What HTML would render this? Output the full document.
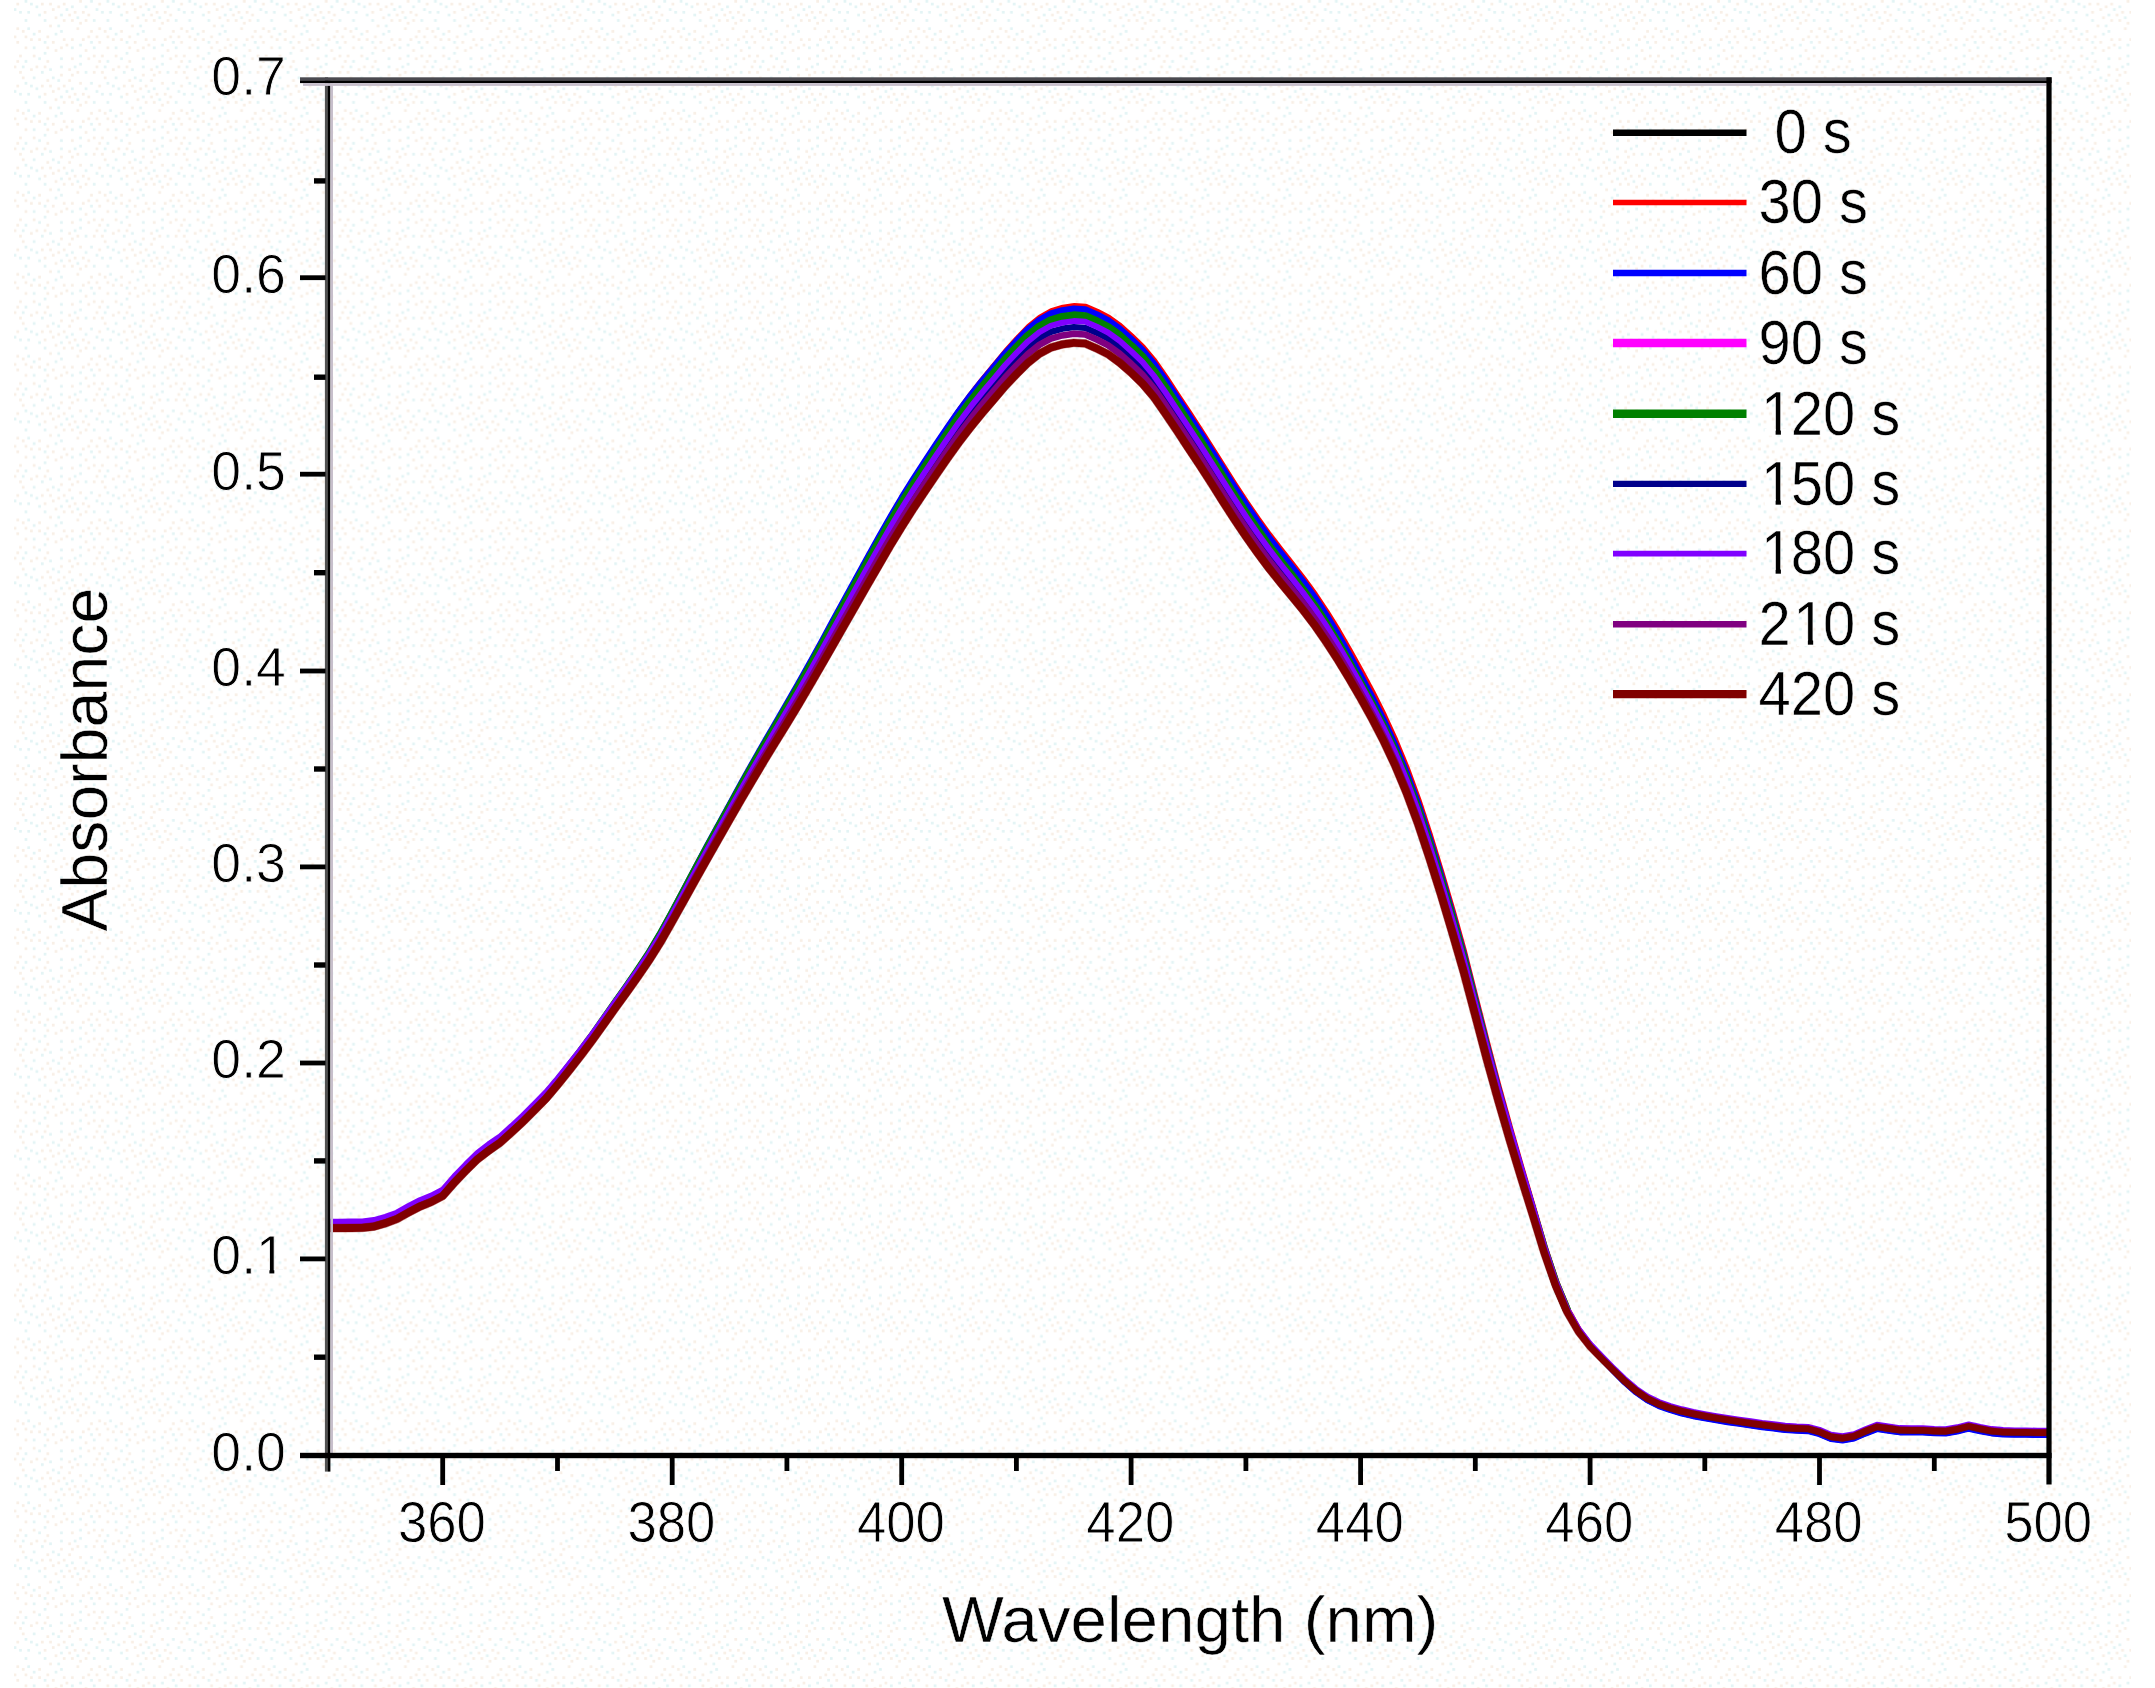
<!DOCTYPE html>
<html lang="en"><head><meta charset="utf-8"><title>Absorbance vs Wavelength</title>
<style>
html,body{margin:0;padding:0;background:#fff;}
body{width:2155px;height:1688px;overflow:hidden;}
svg{display:block;}
text{font-family:"Liberation Sans",Arial,Helvetica,sans-serif;fill:#000;}
.tick{font-size:52.5px;stroke:#fff;stroke-width:0.8px;}
.leg{font-size:58px;stroke:#fff;stroke-width:0.5px;}
.title{font-size:64px;stroke:#fff;stroke-width:0.5px;}
</style></head><body>
<svg width="2155" height="1688" viewBox="0 0 2155 1688">
<defs><pattern id="dz" width="81.90" height="81.90" patternUnits="userSpaceOnUse">
<rect x="27.30" y="10.92" width="2.73" height="2.73" fill="#e3f4f5"/>
<rect x="32.76" y="54.60" width="2.73" height="2.73" fill="#f8efe6"/>
<rect x="2.73" y="5.46" width="2.73" height="2.73" fill="#e3f4f5"/>
<rect x="70.98" y="46.41" width="2.73" height="2.73" fill="#e3f4f5"/>
<rect x="8.19" y="30.03" width="2.73" height="2.73" fill="#f8efe6"/>
<rect x="49.14" y="2.73" width="2.73" height="2.73" fill="#f8efe6"/>
<rect x="79.17" y="43.68" width="2.73" height="2.73" fill="#e3f4f5"/>
<rect x="16.38" y="2.73" width="2.73" height="2.73" fill="#f8efe6"/>
<rect x="5.46" y="35.49" width="2.73" height="2.73" fill="#f8efe6"/>
<rect x="35.49" y="5.46" width="2.73" height="2.73" fill="#e3f4f5"/>
<rect x="46.41" y="35.49" width="2.73" height="2.73" fill="#f8efe6"/>
<rect x="2.73" y="70.98" width="2.73" height="2.73" fill="#e3f4f5"/>
<rect x="19.11" y="54.60" width="2.73" height="2.73" fill="#f8efe6"/>
<rect x="54.60" y="49.14" width="2.73" height="2.73" fill="#f8efe6"/>
<rect x="2.73" y="49.14" width="2.73" height="2.73" fill="#f8efe6"/>
<rect x="2.73" y="19.11" width="2.73" height="2.73" fill="#f8efe6"/>
<rect x="73.71" y="10.92" width="2.73" height="2.73" fill="#f8efe6"/>
<rect x="24.57" y="35.49" width="2.73" height="2.73" fill="#f8efe6"/>
<rect x="10.92" y="46.41" width="2.73" height="2.73" fill="#e3f4f5"/>
<rect x="24.57" y="46.41" width="2.73" height="2.73" fill="#f8efe6"/>
<rect x="70.98" y="57.33" width="2.73" height="2.73" fill="#f8efe6"/>
<rect x="13.65" y="8.19" width="2.73" height="2.73" fill="#e3f4f5"/>
<rect x="54.60" y="16.38" width="2.73" height="2.73" fill="#f8efe6"/>
<rect x="46.41" y="60.06" width="2.73" height="2.73" fill="#f8efe6"/>
<rect x="16.38" y="40.95" width="2.73" height="2.73" fill="#f8efe6"/>
<rect x="35.49" y="65.52" width="2.73" height="2.73" fill="#f8efe6"/>
<rect x="38.22" y="30.03" width="2.73" height="2.73" fill="#f8efe6"/>
<rect x="24.57" y="19.11" width="2.73" height="2.73" fill="#e3f4f5"/>
<rect x="68.25" y="13.65" width="2.73" height="2.73" fill="#f8efe6"/>
<rect x="60.06" y="65.52" width="2.73" height="2.73" fill="#e3f4f5"/>
<rect x="49.14" y="24.57" width="2.73" height="2.73" fill="#f8efe6"/>
<rect x="43.68" y="40.95" width="2.73" height="2.73" fill="#e3f4f5"/>
<rect x="76.44" y="27.30" width="2.73" height="2.73" fill="#f8efe6"/>
<rect x="62.79" y="38.22" width="2.73" height="2.73" fill="#f8efe6"/>
<rect x="13.65" y="65.52" width="2.73" height="2.73" fill="#f8efe6"/>
<rect x="57.33" y="5.46" width="2.73" height="2.73" fill="#f8efe6"/>
<rect x="49.14" y="68.25" width="2.73" height="2.73" fill="#e3f4f5"/>
<rect x="76.44" y="70.98" width="2.73" height="2.73" fill="#f8efe6"/>
<rect x="27.30" y="27.30" width="2.73" height="2.73" fill="#e3f4f5"/>
<rect x="60.06" y="30.03" width="2.73" height="2.73" fill="#e3f4f5"/>
<rect x="51.87" y="40.95" width="2.73" height="2.73" fill="#f8efe6"/>
<rect x="70.98" y="5.46" width="2.73" height="2.73" fill="#e3f4f5"/>
<rect x="60.06" y="57.33" width="2.73" height="2.73" fill="#e3f4f5"/>
<rect x="70.98" y="38.22" width="2.73" height="2.73" fill="#f8efe6"/>
<rect x="24.57" y="60.06" width="2.73" height="2.73" fill="#e3f4f5"/>
<rect x="32.76" y="76.44" width="2.73" height="2.73" fill="#e3f4f5"/>
<rect x="0.00" y="38.22" width="2.73" height="2.73" fill="#f8efe6"/>
<rect x="51.87" y="8.19" width="2.73" height="2.73" fill="#f8efe6"/>
<rect x="40.95" y="2.73" width="2.73" height="2.73" fill="#f8efe6"/>
<rect x="62.79" y="19.11" width="2.73" height="2.73" fill="#f8efe6"/>
<rect x="32.76" y="32.76" width="2.73" height="2.73" fill="#e3f4f5"/>
<rect x="32.76" y="46.41" width="2.73" height="2.73" fill="#e3f4f5"/>
<rect x="21.84" y="76.44" width="2.73" height="2.73" fill="#f8efe6"/>
<rect x="10.92" y="70.98" width="2.73" height="2.73" fill="#f8efe6"/>
<rect x="19.11" y="10.92" width="2.73" height="2.73" fill="#e3f4f5"/>
<rect x="5.46" y="13.65" width="2.73" height="2.73" fill="#f8efe6"/>
<rect x="10.92" y="19.11" width="2.73" height="2.73" fill="#e3f4f5"/>
<rect x="24.57" y="0.00" width="2.73" height="2.73" fill="#e3f4f5"/>
<rect x="60.06" y="73.71" width="2.73" height="2.73" fill="#f8efe6"/>
<rect x="43.68" y="51.87" width="2.73" height="2.73" fill="#e3f4f5"/>
<rect x="62.79" y="2.73" width="2.73" height="2.73" fill="#f8efe6"/>
<rect x="73.71" y="65.52" width="2.73" height="2.73" fill="#e3f4f5"/>
<rect x="8.19" y="40.95" width="2.73" height="2.73" fill="#e3f4f5"/>
<rect x="54.60" y="32.76" width="2.73" height="2.73" fill="#e3f4f5"/>
<rect x="38.22" y="13.65" width="2.73" height="2.73" fill="#e3f4f5"/>
<rect x="8.19" y="0.00" width="2.73" height="2.73" fill="#e3f4f5"/>
<rect x="10.92" y="54.60" width="2.73" height="2.73" fill="#f8efe6"/>
<rect x="21.84" y="30.03" width="2.73" height="2.73" fill="#f8efe6"/>
<rect x="40.95" y="70.98" width="2.73" height="2.73" fill="#e3f4f5"/>
<rect x="60.06" y="13.65" width="2.73" height="2.73" fill="#e3f4f5"/>
<rect x="60.06" y="46.41" width="2.73" height="2.73" fill="#f8efe6"/>
<rect x="79.17" y="0.00" width="2.73" height="2.73" fill="#f8efe6"/>
<rect x="65.52" y="43.68" width="2.73" height="2.73" fill="#f8efe6"/>
<rect x="46.41" y="46.41" width="2.73" height="2.73" fill="#f8efe6"/>
<rect x="68.25" y="68.25" width="2.73" height="2.73" fill="#f8efe6"/>
<rect x="19.11" y="70.98" width="2.73" height="2.73" fill="#f8efe6"/>
<rect x="30.03" y="38.22" width="2.73" height="2.73" fill="#f8efe6"/>
<rect x="68.25" y="79.17" width="2.73" height="2.73" fill="#f8efe6"/>
<rect x="16.38" y="27.30" width="2.73" height="2.73" fill="#f8efe6"/>
<rect x="51.87" y="76.44" width="2.73" height="2.73" fill="#e3f4f5"/>
<rect x="79.17" y="54.60" width="2.73" height="2.73" fill="#e3f4f5"/>
<rect x="30.03" y="68.25" width="2.73" height="2.73" fill="#f8efe6"/>
<rect x="0.00" y="10.92" width="2.73" height="2.73" fill="#f8efe6"/>
<rect x="57.33" y="79.17" width="2.73" height="2.73" fill="#e3f4f5"/>
<rect x="70.98" y="73.71" width="2.73" height="2.73" fill="#f8efe6"/>
<rect x="79.17" y="62.79" width="2.73" height="2.73" fill="#e3f4f5"/>
<rect x="38.22" y="57.33" width="2.73" height="2.73" fill="#e3f4f5"/>
<rect x="43.68" y="10.92" width="2.73" height="2.73" fill="#f8efe6"/>
<rect x="65.52" y="8.19" width="2.73" height="2.73" fill="#e3f4f5"/>
<rect x="16.38" y="60.06" width="2.73" height="2.73" fill="#f8efe6"/>
<rect x="43.68" y="19.11" width="2.73" height="2.73" fill="#e3f4f5"/>
<rect x="79.17" y="21.84" width="2.73" height="2.73" fill="#f8efe6"/>
<rect x="76.44" y="16.38" width="2.73" height="2.73" fill="#e3f4f5"/>
<rect x="5.46" y="57.33" width="2.73" height="2.73" fill="#f8efe6"/>
<rect x="57.33" y="24.57" width="2.73" height="2.73" fill="#e3f4f5"/>
<rect x="70.98" y="19.11" width="2.73" height="2.73" fill="#f8efe6"/>
<rect x="38.22" y="38.22" width="2.73" height="2.73" fill="#f8efe6"/>
<rect x="21.84" y="65.52" width="2.73" height="2.73" fill="#e3f4f5"/>
<rect x="46.41" y="79.17" width="2.73" height="2.73" fill="#f8efe6"/>
<rect x="13.65" y="35.49" width="2.73" height="2.73" fill="#f8efe6"/>
<rect x="43.68" y="65.52" width="2.73" height="2.73" fill="#f8efe6"/>
<rect x="30.03" y="2.73" width="2.73" height="2.73" fill="#e3f4f5"/>
</pattern>
<clipPath id="pc"><rect x="328.0" y="80.5" width="1721.0" height="1375.0"/></clipPath>
</defs>
<rect width="2155" height="1688" fill="#ffffff"/>
<rect x="14" y="0" width="2117" height="1688" fill="url(#dz)"/>
<g clip-path="url(#pc)" fill="none" stroke-linejoin="round" stroke-linecap="butt">
<path d="M328.0,1225.1 L339.5,1225.1 L350.9,1225.0 L362.4,1224.8 L373.9,1223.5 L385.4,1220.3 L396.8,1216.0 L408.3,1209.5 L419.8,1203.5 L431.3,1198.8 L442.7,1192.9 L454.2,1179.6 L465.7,1167.6 L477.2,1156.2 L488.6,1147.3 L500.1,1139.3 L511.6,1128.9 L523.0,1118.1 L534.5,1106.4 L546.0,1094.5 L557.5,1080.7 L568.9,1066.2 L580.4,1051.3 L591.9,1035.7 L603.4,1019.3 L614.8,1002.9 L626.3,986.5 L637.8,969.8 L649.3,952.2 L660.7,932.9 L672.2,911.9 L683.7,890.1 L695.1,868.4 L706.6,846.9 L718.1,825.8 L729.6,804.7 L741.0,783.8 L752.5,763.3 L764.0,743.1 L775.5,723.3 L786.9,703.5 L798.4,683.5 L809.9,663.1 L821.4,642.2 L832.8,621.1 L844.3,600.0 L855.8,579.1 L867.2,558.2 L878.7,537.6 L890.2,517.3 L901.7,497.8 L913.1,479.5 L924.6,461.9 L936.1,444.4 L947.6,427.4 L959.0,410.9 L970.5,395.5 L982.0,381.0 L993.5,367.3 L1004.9,353.6 L1016.4,341.1 L1027.9,329.3 L1039.3,320.1 L1050.8,313.7 L1062.3,310.4 L1073.8,308.8 L1085.2,309.5 L1096.7,314.5 L1108.2,320.4 L1119.7,328.7 L1131.1,338.9 L1142.6,350.1 L1154.1,363.8 L1165.6,380.4 L1177.0,397.5 L1188.5,415.0 L1200.0,432.5 L1211.4,450.5 L1222.9,468.8 L1234.4,486.9 L1245.9,504.4 L1257.3,521.1 L1268.8,537.1 L1280.3,552.2 L1291.8,566.7 L1303.2,581.5 L1314.7,597.4 L1326.2,615.0 L1337.7,634.1 L1349.1,654.4 L1360.6,675.5 L1372.1,697.1 L1383.5,719.7 L1395.0,744.6 L1406.5,772.4 L1418.0,803.6 L1429.4,838.1 L1440.9,875.0 L1452.4,913.8 L1463.9,954.8 L1475.3,999.8 L1486.8,1045.0 L1498.3,1088.8 L1509.8,1130.1 L1521.2,1169.6 L1532.7,1208.3 L1544.2,1247.3 L1555.6,1281.8 L1567.1,1309.6" stroke="#000000" stroke-width="5.0"/>
<path d="M1567.1,1309.6 L1578.6,1330.2 L1590.1,1345.8 L1601.5,1358.4 L1613.0,1370.6 L1624.5,1382.3 L1636.0,1392.4 L1647.4,1400.4 L1658.9,1406.1 L1670.4,1410.2 L1681.9,1413.5 L1693.3,1416.2 L1704.8,1418.4 L1716.3,1420.4 L1727.7,1422.2 L1739.2,1423.9 L1750.7,1425.6 L1762.2,1427.2 L1773.6,1428.5 L1785.1,1430.1 L1796.6,1430.8 L1808.1,1431.2 L1819.5,1434.2 L1831.0,1439.1 L1842.5,1440.5 L1854.0,1438.5 L1865.4,1433.6 L1876.9,1429.1 L1888.4,1430.8 L1899.8,1432.4 L1911.3,1432.6 L1922.8,1432.6 L1934.3,1433.3 L1945.7,1433.5 L1957.2,1431.6 L1968.7,1428.7 L1980.2,1431.2 L1991.6,1433.4 L2003.1,1434.4 L2014.6,1434.7 L2026.1,1434.8 L2037.5,1435.0 L2049.0,1435.0" stroke="#000000" stroke-width="5.0"/>
<path d="M328.6,1225.6 L340.1,1225.6 L351.5,1225.5 L363.0,1225.3 L374.5,1224.0 L386.0,1220.8 L397.4,1216.5 L408.9,1210.0 L420.4,1204.0 L431.9,1199.3 L443.3,1193.4 L454.8,1180.1 L466.3,1168.1 L477.8,1156.7 L489.2,1147.8 L500.7,1139.8 L512.2,1129.4 L523.6,1118.6 L535.1,1106.9 L546.6,1095.0 L558.1,1081.2 L569.5,1066.7 L581.0,1051.8 L592.5,1036.2 L604.0,1019.8 L615.4,1003.4 L626.9,987.0 L638.4,970.3 L649.9,952.7 L661.3,933.4 L672.8,912.4 L684.3,890.7 L695.7,868.9 L707.2,847.5 L718.7,826.3 L730.2,805.2 L741.6,784.3 L753.1,763.8 L764.6,743.6 L776.1,723.8 L787.5,704.1 L799.0,684.1 L810.5,663.7 L822.0,642.8 L833.4,621.7 L844.9,600.6 L856.4,579.5 L867.8,558.6 L879.3,537.9 L890.8,517.4 L902.3,497.8 L913.7,479.3 L925.2,461.4 L936.7,443.8 L948.2,426.4 L959.6,409.7 L971.1,394.0 L982.6,379.3 L994.1,365.3 L1005.5,351.4 L1017.0,338.6 L1028.5,326.7 L1039.9,317.3 L1051.4,310.8 L1062.9,307.4 L1074.4,305.8 L1085.8,306.5 L1097.3,311.5 L1108.8,317.4 L1120.3,325.8 L1131.7,336.0 L1143.2,347.2 L1154.7,361.1 L1166.2,377.6 L1177.6,394.9 L1189.1,412.3 L1200.6,429.9 L1212.0,448.0 L1223.5,466.3 L1235.0,484.5 L1246.5,502.0 L1257.9,518.6 L1269.4,534.5 L1280.9,549.5 L1292.4,563.9 L1303.8,578.7 L1315.3,594.4 L1326.8,611.7 L1338.3,630.3 L1349.7,650.1 L1361.2,670.8 L1372.7,692.3 L1384.1,715.1 L1395.6,740.2 L1407.1,768.2 L1418.6,799.6 L1430.0,834.4 L1441.5,871.7 L1453.0,910.8 L1464.5,952.1 L1475.9,997.3 L1487.4,1042.6 L1498.9,1086.5 L1510.4,1128.0 L1521.8,1167.8 L1533.3,1206.7 L1544.8,1246.0 L1556.2,1280.7 L1567.7,1308.6" stroke="#ff0000" stroke-width="5.5"/>
<path d="M1567.7,1308.6 L1579.2,1329.2 L1590.7,1344.7 L1602.1,1357.3 L1613.6,1369.3 L1625.1,1380.9 L1636.6,1390.8 L1648.0,1398.6 L1659.5,1404.1 L1671.0,1408.0 L1682.5,1411.2 L1693.9,1413.8 L1705.4,1416.0 L1716.9,1418.0 L1728.3,1419.8 L1739.8,1421.5 L1751.3,1423.2 L1762.8,1424.8 L1774.2,1426.1 L1785.7,1427.7 L1797.2,1428.4 L1808.7,1428.8 L1820.1,1431.8 L1831.6,1436.7 L1843.1,1438.1 L1854.6,1436.1 L1866.0,1431.2 L1877.5,1426.7 L1889.0,1428.4 L1900.4,1430.0 L1911.9,1430.2 L1923.4,1430.2 L1934.9,1430.9 L1946.3,1431.1 L1957.8,1429.2 L1969.3,1426.3 L1980.8,1428.8 L1992.2,1431.0 L2003.7,1432.0 L2015.2,1432.3 L2026.7,1432.4 L2038.1,1432.6 L2049.6,1432.6" stroke="#ff0000" stroke-width="5.0"/>
<path d="M328.0,1225.1 L339.5,1225.1 L350.9,1225.0 L362.4,1224.8 L373.9,1223.5 L385.4,1220.3 L396.8,1216.0 L408.3,1209.5 L419.8,1203.5 L431.3,1198.8 L442.7,1192.9 L454.2,1179.6 L465.7,1167.6 L477.2,1156.2 L488.6,1147.3 L500.1,1139.3 L511.6,1128.9 L523.0,1118.1 L534.5,1106.4 L546.0,1094.5 L557.5,1080.7 L568.9,1066.2 L580.4,1051.3 L591.9,1035.7 L603.4,1019.3 L614.8,1002.9 L626.3,986.5 L637.8,969.8 L649.3,952.2 L660.7,932.9 L672.2,911.9 L683.7,890.1 L695.1,868.4 L706.6,846.9 L718.1,825.8 L729.6,804.7 L741.0,783.8 L752.5,763.3 L764.0,743.1 L775.5,723.3 L786.9,703.5 L798.4,683.5 L809.9,663.1 L821.4,642.2 L832.8,621.1 L844.3,600.0 L855.8,579.1 L867.2,558.2 L878.7,537.6 L890.2,517.3 L901.7,497.8 L913.1,479.5 L924.6,461.9 L936.1,444.4 L947.6,427.4 L959.0,410.9 L970.5,395.5 L982.0,381.0 L993.5,367.3 L1004.9,353.6 L1016.4,341.1 L1027.9,329.3 L1039.3,320.1 L1050.8,313.7 L1062.3,310.4 L1073.8,308.8 L1085.2,309.5 L1096.7,314.5 L1108.2,320.4 L1119.7,328.7 L1131.1,338.9 L1142.6,350.1 L1154.1,363.8 L1165.6,380.4 L1177.0,397.5 L1188.5,415.0 L1200.0,432.5 L1211.4,450.5 L1222.9,468.8 L1234.4,486.9 L1245.9,504.4 L1257.3,521.1 L1268.8,537.1 L1280.3,552.2 L1291.8,566.7 L1303.2,581.5 L1314.7,597.4 L1326.2,615.0 L1337.7,634.1 L1349.1,654.4 L1360.6,675.5 L1372.1,697.1 L1383.5,719.7 L1395.0,744.6 L1406.5,772.4 L1418.0,803.6 L1429.4,838.1 L1440.9,875.0 L1452.4,913.8 L1463.9,954.8 L1475.3,999.8 L1486.8,1045.0 L1498.3,1088.8 L1509.8,1130.1 L1521.2,1169.6 L1532.7,1208.3 L1544.2,1247.3 L1555.6,1281.8 L1567.1,1309.6" stroke="#0000ff" stroke-width="6.5"/>
<path d="M1567.1,1309.6 L1578.6,1330.2 L1590.1,1345.8 L1601.5,1358.4 L1613.0,1370.6 L1624.5,1382.3 L1636.0,1392.4 L1647.4,1400.4 L1658.9,1406.1 L1670.4,1410.2 L1681.9,1413.5 L1693.3,1416.2 L1704.8,1418.4 L1716.3,1420.4 L1727.7,1422.2 L1739.2,1423.9 L1750.7,1425.6 L1762.2,1427.2 L1773.6,1428.5 L1785.1,1430.1 L1796.6,1430.8 L1808.1,1431.2 L1819.5,1434.2 L1831.0,1439.1 L1842.5,1440.5 L1854.0,1438.5 L1865.4,1433.6 L1876.9,1429.1 L1888.4,1430.8 L1899.8,1432.4 L1911.3,1432.6 L1922.8,1432.6 L1934.3,1433.3 L1945.7,1433.5 L1957.2,1431.6 L1968.7,1428.7 L1980.2,1431.2 L1991.6,1433.4 L2003.1,1434.4 L2014.6,1434.7 L2026.1,1434.8 L2037.5,1435.0 L2049.0,1435.0" stroke="#0000ff" stroke-width="6.0"/>
<path d="M328.0,1225.6 L339.5,1225.6 L350.9,1225.5 L362.4,1225.3 L373.9,1224.0 L385.4,1220.8 L396.8,1216.5 L408.3,1210.0 L419.8,1204.0 L431.3,1199.3 L442.7,1193.4 L454.2,1180.1 L465.7,1168.1 L477.2,1156.7 L488.6,1147.8 L500.1,1139.8 L511.6,1129.4 L523.0,1118.6 L534.5,1106.9 L546.0,1095.1 L557.5,1081.3 L568.9,1066.9 L580.4,1052.1 L591.9,1036.6 L603.4,1020.3 L614.8,1003.9 L626.3,987.6 L637.8,971.0 L649.3,953.6 L660.7,934.5 L672.2,913.7 L683.7,892.2 L695.1,870.7 L706.6,849.5 L718.1,828.5 L729.6,807.7 L741.0,787.0 L752.5,766.7 L764.0,746.7 L775.5,727.1 L786.9,707.6 L798.4,687.8 L809.9,667.5 L821.4,646.9 L832.8,626.0 L844.3,605.1 L855.8,584.3 L867.2,563.6 L878.7,543.2 L890.2,523.0 L901.7,503.6 L913.1,485.4 L924.6,467.9 L936.1,450.5 L947.6,433.6 L959.0,417.2 L970.5,401.9 L982.0,387.5 L993.5,373.8 L1004.9,360.2 L1016.4,347.7 L1027.9,336.0 L1039.3,326.9 L1050.8,320.5 L1062.3,317.2 L1073.8,315.6 L1085.2,316.4 L1096.7,321.4 L1108.2,327.4 L1119.7,335.8 L1131.1,346.1 L1142.6,357.4 L1154.1,371.4 L1165.6,388.1 L1177.0,405.5 L1188.5,423.1 L1200.0,440.8 L1211.4,459.0 L1222.9,477.5 L1234.4,495.7 L1245.9,513.3 L1257.3,530.0 L1268.8,546.1 L1280.3,561.2 L1291.8,575.7 L1303.2,590.6 L1314.7,606.4 L1326.2,623.9 L1337.7,642.9 L1349.1,662.9 L1360.6,683.7 L1372.1,704.9 L1383.5,727.2 L1395.0,751.9 L1406.5,779.4 L1418.0,810.4 L1429.4,844.7 L1440.9,881.3 L1452.4,919.8 L1463.9,960.5 L1475.3,1005.2 L1486.8,1050.2 L1498.3,1093.7 L1509.8,1134.5 L1521.2,1173.4 L1532.7,1211.3 L1544.2,1249.5 L1555.6,1283.3 L1567.1,1310.6" stroke="#ff00ff" stroke-width="7.0"/>
<path d="M1567.1,1310.6 L1578.6,1330.8 L1590.1,1345.9 L1601.5,1358.1 L1613.0,1369.9 L1624.5,1381.3 L1636.0,1391.3 L1647.4,1399.1 L1658.9,1404.8 L1670.4,1408.7 L1681.9,1412.0 L1693.3,1414.6 L1704.8,1416.8 L1716.3,1418.8 L1727.7,1420.6 L1739.2,1422.3 L1750.7,1424.0 L1762.2,1425.6 L1773.6,1426.9 L1785.1,1428.5 L1796.6,1429.2 L1808.1,1429.6 L1819.5,1432.6 L1831.0,1437.5 L1842.5,1438.9 L1854.0,1436.9 L1865.4,1432.0 L1876.9,1427.5 L1888.4,1429.2 L1899.8,1430.8 L1911.3,1431.0 L1922.8,1431.0 L1934.3,1431.7 L1945.7,1431.9 L1957.2,1430.0 L1968.7,1427.1 L1980.2,1429.6 L1991.6,1431.8 L2003.1,1432.8 L2014.6,1433.1 L2026.1,1433.2 L2037.5,1433.4 L2049.0,1433.4" stroke="#ff00ff" stroke-width="5.0"/>
<path d="M328.0,1225.6 L339.5,1225.6 L350.9,1225.5 L362.4,1225.3 L373.9,1224.0 L385.4,1220.8 L396.8,1216.5 L408.3,1210.0 L419.8,1204.0 L431.3,1199.3 L442.7,1193.4 L454.2,1180.1 L465.7,1168.1 L477.2,1156.7 L488.6,1147.8 L500.1,1139.8 L511.6,1129.4 L523.0,1118.6 L534.5,1106.9 L546.0,1095.1 L557.5,1081.3 L568.9,1066.9 L580.4,1052.1 L591.9,1036.6 L603.4,1020.3 L614.8,1003.9 L626.3,987.6 L637.8,971.0 L649.3,953.6 L660.7,934.5 L672.2,913.7 L683.7,892.2 L695.1,870.7 L706.6,849.5 L718.1,828.5 L729.6,807.7 L741.0,787.0 L752.5,766.7 L764.0,746.7 L775.5,727.1 L786.9,707.6 L798.4,687.8 L809.9,667.5 L821.4,646.9 L832.8,626.0 L844.3,605.1 L855.8,584.3 L867.2,563.6 L878.7,543.2 L890.2,523.0 L901.7,503.6 L913.1,485.4 L924.6,467.9 L936.1,450.5 L947.6,433.6 L959.0,417.2 L970.5,401.9 L982.0,387.5 L993.5,373.8 L1004.9,360.2 L1016.4,347.7 L1027.9,336.0 L1039.3,326.9 L1050.8,320.5 L1062.3,317.2 L1073.8,315.6 L1085.2,316.4 L1096.7,321.4 L1108.2,327.4 L1119.7,335.8 L1131.1,346.1 L1142.6,357.4 L1154.1,371.4 L1165.6,388.1 L1177.0,405.5 L1188.5,423.1 L1200.0,440.8 L1211.4,459.0 L1222.9,477.5 L1234.4,495.7 L1245.9,513.3 L1257.3,530.0 L1268.8,546.1 L1280.3,561.2 L1291.8,575.7 L1303.2,590.6 L1314.7,606.4 L1326.2,623.9 L1337.7,642.9 L1349.1,662.9 L1360.6,683.7 L1372.1,704.9 L1383.5,727.2 L1395.0,751.9 L1406.5,779.4 L1418.0,810.4 L1429.4,844.7 L1440.9,881.3 L1452.4,919.8 L1463.9,960.5 L1475.3,1005.2 L1486.8,1050.2 L1498.3,1093.7 L1509.8,1134.5 L1521.2,1173.4 L1532.7,1211.3 L1544.2,1249.5 L1555.6,1283.3 L1567.1,1310.6" stroke="#008000" stroke-width="8.5"/>
<path d="M1567.1,1310.6 L1578.6,1330.8 L1590.1,1345.9 L1601.5,1358.1 L1613.0,1369.9 L1624.5,1381.3 L1636.0,1391.3 L1647.4,1399.1 L1658.9,1404.8 L1670.4,1408.7 L1681.9,1412.0 L1693.3,1414.6 L1704.8,1416.8 L1716.3,1418.8 L1727.7,1420.6 L1739.2,1422.3 L1750.7,1424.0 L1762.2,1425.6 L1773.6,1426.9 L1785.1,1428.5 L1796.6,1429.2 L1808.1,1429.6 L1819.5,1432.6 L1831.0,1437.5 L1842.5,1438.9 L1854.0,1436.9 L1865.4,1432.0 L1876.9,1427.5 L1888.4,1429.2 L1899.8,1430.8 L1911.3,1431.0 L1922.8,1431.0 L1934.3,1431.7 L1945.7,1431.9 L1957.2,1430.0 L1968.7,1427.1 L1980.2,1429.6 L1991.6,1431.8 L2003.1,1432.8 L2014.6,1433.1 L2026.1,1433.2 L2037.5,1433.4 L2049.0,1433.4" stroke="#008000" stroke-width="5.0"/>
<path d="M328.0,1226.7 L339.5,1226.7 L350.9,1226.6 L362.4,1226.4 L373.9,1225.1 L385.4,1221.9 L396.8,1217.7 L408.3,1211.1 L419.8,1205.2 L431.3,1200.5 L442.7,1194.6 L454.2,1181.3 L465.7,1169.4 L477.2,1158.1 L488.6,1149.1 L500.1,1141.2 L511.6,1130.8 L523.0,1120.1 L534.5,1108.5 L546.0,1096.7 L557.5,1083.0 L568.9,1068.7 L580.4,1053.9 L591.9,1038.5 L603.4,1022.3 L614.8,1006.1 L626.3,989.9 L637.8,973.6 L649.3,956.4 L660.7,937.7 L672.2,917.2 L683.7,896.0 L695.1,874.8 L706.6,854.0 L718.1,833.3 L729.6,812.8 L741.0,792.5 L752.5,772.4 L764.0,752.8 L775.5,733.6 L786.9,714.4 L798.4,695.0 L809.9,675.1 L821.4,654.8 L832.8,634.3 L844.3,613.7 L855.8,593.3 L867.2,572.9 L878.7,552.7 L890.2,532.7 L901.7,513.5 L913.1,495.5 L924.6,478.1 L936.1,460.9 L947.6,444.1 L959.0,427.9 L970.5,412.7 L982.0,398.4 L993.5,384.8 L1004.9,371.3 L1016.4,359.0 L1027.9,347.4 L1039.3,338.3 L1050.8,331.9 L1062.3,328.7 L1073.8,327.1 L1085.2,327.8 L1096.7,332.8 L1108.2,338.8 L1119.7,347.2 L1131.1,357.4 L1142.6,368.6 L1154.1,382.5 L1165.6,399.1 L1177.0,416.3 L1188.5,433.8 L1200.0,451.4 L1211.4,469.5 L1222.9,487.8 L1234.4,505.9 L1245.9,523.2 L1257.3,539.7 L1268.8,555.4 L1280.3,570.2 L1291.8,584.4 L1303.2,598.9 L1314.7,614.4 L1326.2,631.4 L1337.7,649.8 L1349.1,669.2 L1360.6,689.5 L1372.1,710.8 L1383.5,733.4 L1395.0,758.4 L1406.5,786.3 L1418.0,817.6 L1429.4,852.2 L1440.9,889.1 L1452.4,927.8 L1463.9,968.2 L1475.3,1011.9 L1486.8,1055.5 L1498.3,1097.6 L1509.8,1137.5 L1521.2,1175.8 L1532.7,1213.3 L1544.2,1251.1 L1555.6,1284.6 L1567.1,1311.6" stroke="#00008b" stroke-width="6.3"/>
<path d="M1567.1,1311.6 L1578.6,1331.5 L1590.1,1346.4 L1601.5,1358.4 L1613.0,1370.1 L1624.5,1381.4 L1636.0,1391.3 L1647.4,1399.2 L1658.9,1404.9 L1670.4,1408.9 L1681.9,1412.1 L1693.3,1414.8 L1704.8,1417.0 L1716.3,1419.0 L1727.7,1420.8 L1739.2,1422.5 L1750.7,1424.2 L1762.2,1425.8 L1773.6,1427.1 L1785.1,1428.7 L1796.6,1429.4 L1808.1,1429.8 L1819.5,1432.8 L1831.0,1437.7 L1842.5,1439.1 L1854.0,1437.1 L1865.4,1432.2 L1876.9,1427.7 L1888.4,1429.4 L1899.8,1431.0 L1911.3,1431.2 L1922.8,1431.2 L1934.3,1431.9 L1945.7,1432.1 L1957.2,1430.2 L1968.7,1427.3 L1980.2,1429.8 L1991.6,1432.0 L2003.1,1433.0 L2014.6,1433.3 L2026.1,1433.4 L2037.5,1433.6 L2049.0,1433.6" stroke="#00008b" stroke-width="5.0"/>
<path d="M328.0,1221.6 L339.5,1221.6 L350.9,1221.5 L362.4,1221.3 L373.9,1220.0 L385.4,1216.8 L396.8,1212.6 L408.3,1206.1 L419.8,1200.1 L431.3,1195.5 L442.7,1189.6 L454.2,1176.3 L465.7,1164.4 L477.2,1153.1 L488.6,1144.2 L500.1,1136.3 L511.6,1126.0 L523.0,1115.3 L534.5,1103.8 L546.0,1092.1 L557.5,1078.5 L568.9,1064.4 L580.4,1049.7 L591.9,1034.5 L603.4,1018.5 L614.8,1002.4 L626.3,986.4 L637.8,970.2 L649.3,953.1 L660.7,934.4 L672.2,914.0 L683.7,892.9 L695.1,871.7 L706.6,850.9 L718.1,830.2 L729.6,809.7 L741.0,789.3 L752.5,769.2 L764.0,749.5 L775.5,730.1 L786.9,710.8 L798.4,691.2 L809.9,671.1 L821.4,650.6 L832.8,629.9 L844.3,609.2 L855.8,588.5 L867.2,568.0 L878.7,547.6 L890.2,527.5 L901.7,508.2 L913.1,490.1 L924.6,472.6 L936.1,455.4 L947.6,438.5 L959.0,422.2 L970.5,406.9 L982.0,392.6 L993.5,379.0 L1004.9,365.4 L1016.4,353.0 L1027.9,341.4 L1039.3,332.2 L1050.8,325.8 L1062.3,322.6 L1073.8,321.0 L1085.2,321.7 L1096.7,326.7 L1108.2,332.6 L1119.7,340.9 L1131.1,351.1 L1142.6,362.2 L1154.1,376.0 L1165.6,392.5 L1177.0,409.6 L1188.5,427.0 L1200.0,444.5 L1211.4,462.5 L1222.9,480.8 L1234.4,498.8 L1245.9,516.3 L1257.3,532.9 L1268.8,548.8 L1280.3,563.8 L1291.8,578.1 L1303.2,592.8 L1314.7,608.4 L1326.2,625.6 L1337.7,644.2 L1349.1,663.8 L1360.6,684.2 L1372.1,705.3 L1383.5,727.5 L1395.0,752.1 L1406.5,779.6 L1418.0,810.6 L1429.4,844.9 L1440.9,881.4 L1452.4,919.8 L1463.9,959.9 L1475.3,1003.4 L1486.8,1046.9 L1498.3,1089.0 L1509.8,1128.9 L1521.2,1167.8 L1532.7,1206.6 L1544.2,1246.1 L1555.6,1280.9 L1567.1,1308.6" stroke="#8000ff" stroke-width="5.8"/>
<path d="M1567.1,1308.6 L1578.6,1328.6 L1590.1,1343.6 L1601.5,1355.6 L1613.0,1367.3 L1624.5,1378.5 L1636.0,1388.4 L1647.4,1396.2 L1658.9,1401.8 L1670.4,1405.8 L1681.9,1409.0 L1693.3,1411.6 L1704.8,1413.8 L1716.3,1415.8 L1727.7,1417.6 L1739.2,1419.3 L1750.7,1421.0 L1762.2,1422.6 L1773.6,1423.9 L1785.1,1425.5 L1796.6,1426.2 L1808.1,1426.6 L1819.5,1429.6 L1831.0,1434.5 L1842.5,1435.9 L1854.0,1433.9 L1865.4,1429.0 L1876.9,1424.5 L1888.4,1426.2 L1899.8,1427.8 L1911.3,1428.0 L1922.8,1428.0 L1934.3,1428.7 L1945.7,1428.9 L1957.2,1427.0 L1968.7,1424.1 L1980.2,1426.6 L1991.6,1428.8 L2003.1,1429.8 L2014.6,1430.1 L2026.1,1430.2 L2037.5,1430.4 L2049.0,1430.4" stroke="#8000ff" stroke-width="5.4"/>
<path d="M328.0,1227.3 L339.5,1227.3 L350.9,1227.2 L362.4,1227.0 L373.9,1225.7 L385.4,1222.5 L396.8,1218.3 L408.3,1211.8 L419.8,1205.8 L431.3,1201.1 L442.7,1195.3 L454.2,1182.0 L465.7,1170.0 L477.2,1158.7 L488.6,1149.8 L500.1,1141.9 L511.6,1131.5 L523.0,1120.8 L534.5,1109.3 L546.0,1097.5 L557.5,1083.9 L568.9,1069.6 L580.4,1054.9 L591.9,1039.6 L603.4,1023.5 L614.8,1007.3 L626.3,991.2 L637.8,975.0 L649.3,958.0 L660.7,939.4 L672.2,919.1 L683.7,898.1 L695.1,877.2 L706.6,856.5 L718.1,836.0 L729.6,815.7 L741.0,795.5 L752.5,775.7 L764.0,756.3 L775.5,737.2 L786.9,718.3 L798.4,699.1 L809.9,679.4 L821.4,659.3 L832.8,639.0 L844.3,618.6 L855.8,598.3 L867.2,578.1 L878.7,558.0 L890.2,538.2 L901.7,519.1 L913.1,501.2 L924.6,483.9 L936.1,466.8 L947.6,450.1 L959.0,434.0 L970.5,418.9 L982.0,404.7 L993.5,391.2 L1004.9,377.8 L1016.4,365.5 L1027.9,354.0 L1039.3,344.9 L1050.8,338.6 L1062.3,335.4 L1073.8,333.8 L1085.2,334.5 L1096.7,339.5 L1108.2,345.4 L1119.7,353.7 L1131.1,363.8 L1142.6,374.9 L1154.1,388.6 L1165.6,405.0 L1177.0,422.1 L1188.5,439.4 L1200.0,456.9 L1211.4,474.8 L1222.9,492.9 L1234.4,510.9 L1245.9,528.1 L1257.3,544.4 L1268.8,560.0 L1280.3,574.7 L1291.8,588.7 L1303.2,603.1 L1314.7,618.4 L1326.2,635.3 L1337.7,653.5 L1349.1,672.8 L1360.6,693.0 L1372.1,714.1 L1383.5,736.5 L1395.0,761.3 L1406.5,789.0 L1418.0,820.1 L1429.4,854.5 L1440.9,891.3 L1452.4,929.8 L1463.9,970.0 L1475.3,1013.7 L1486.8,1057.2 L1498.3,1099.2 L1509.8,1139.0 L1521.2,1177.1 L1532.7,1214.4 L1544.2,1252.0 L1555.6,1285.3 L1567.1,1312.1" stroke="#800080" stroke-width="6.6"/>
<path d="M1567.1,1312.1 L1578.6,1331.8 L1590.1,1346.6 L1601.5,1358.4 L1613.0,1369.8 L1624.5,1381.0 L1636.0,1390.8 L1647.4,1398.6 L1658.9,1404.1 L1670.4,1408.0 L1681.9,1411.2 L1693.3,1413.8 L1704.8,1416.0 L1716.3,1418.0 L1727.7,1419.8 L1739.2,1421.5 L1750.7,1423.2 L1762.2,1424.8 L1773.6,1426.1 L1785.1,1427.7 L1796.6,1428.4 L1808.1,1428.8 L1819.5,1431.8 L1831.0,1436.7 L1842.5,1438.1 L1854.0,1436.1 L1865.4,1431.2 L1876.9,1426.7 L1888.4,1428.4 L1899.8,1430.0 L1911.3,1430.2 L1922.8,1430.2 L1934.3,1430.9 L1945.7,1431.1 L1957.2,1429.2 L1968.7,1426.3 L1980.2,1428.8 L1991.6,1431.0 L2003.1,1432.0 L2014.6,1432.3 L2026.1,1432.4 L2037.5,1432.6 L2049.0,1432.6" stroke="#800080" stroke-width="5.0"/>
<path d="M322.0,1224.2 L328.0,1224.2 L339.5,1224.2 L350.9,1224.1 L362.2,1223.9 L373.1,1222.7 L384.2,1219.6 L395.2,1215.6 L406.5,1209.2 L418.1,1203.1 L429.6,1198.4 L440.2,1193.1 L451.3,1180.2 L462.9,1168.2 L474.6,1156.7 L486.3,1147.6 L497.7,1139.7 L508.9,1129.6 L520.3,1119.0 L531.7,1107.5 L543.1,1096.0 L554.5,1082.5 L565.9,1068.4 L577.3,1053.8 L588.7,1038.7 L600.2,1022.7 L611.7,1006.6 L623.1,990.7 L634.6,974.7 L646.0,958.0 L657.4,939.8 L668.8,919.8 L680.3,899.1 L691.7,878.5 L703.2,858.0 L714.7,837.9 L726.2,817.8 L737.7,797.8 L749.2,778.2 L760.7,759.1 L772.1,740.3 L783.6,721.6 L795.1,702.7 L806.5,683.4 L818.0,663.6 L829.4,643.5 L840.9,623.4 L852.4,603.3 L863.9,583.3 L875.3,563.4 L886.8,543.7 L898.4,524.8 L909.9,506.8 L921.4,489.7 L932.9,472.7 L944.4,456.1 L955.9,440.0 L967.4,424.9 L979.0,410.8 L990.5,397.3 L1002.0,383.9 L1013.6,371.6 L1025.3,359.9 L1037.2,350.6 L1049.3,343.9 L1061.5,340.5 L1073.6,338.9 L1086.2,339.7 L1098.4,344.9 L1110.2,351.0 L1122.1,359.6 L1133.8,369.9 L1145.5,381.1 L1157.2,395.1 L1168.8,411.7 L1180.3,428.8 L1191.8,446.1 L1203.2,463.5 L1214.7,481.4 L1226.2,499.5 L1237.7,517.2 L1249.1,534.3 L1260.5,550.3 L1271.9,565.6 L1283.3,580.0 L1294.8,593.8 L1306.3,607.9 L1317.9,623.1 L1329.4,639.8 L1341.0,657.6 L1352.5,676.4 L1364.0,696.2 L1375.5,717.0 L1387.0,739.2 L1398.6,763.9 L1410.1,791.5 L1421.6,822.5 L1433.1,856.8 L1444.6,893.4 L1456.1,931.7 L1467.6,971.7 L1479.1,1015.1 L1490.6,1058.2 L1502.0,1099.9 L1513.4,1139.4 L1524.8,1177.3 L1536.2,1214.3 L1547.6,1251.7 L1559.0,1284.7 L1570.3,1311.0 L1581.5,1330.3 L1592.6,1344.6 L1603.9,1356.2 L1615.3,1367.6 L1626.7,1378.6 L1638.0,1388.1 L1649.1,1395.7 L1660.2,1401.1 L1671.3,1404.9 L1682.7,1408.0 L1694.0,1410.6 L1705.4,1412.7 L1716.8,1414.7 L1728.3,1416.5 L1739.7,1418.2 L1751.2,1419.9 L1762.6,1421.5 L1774.1,1422.9 L1785.4,1424.4 L1796.7,1425.1 L1808.5,1425.5 L1820.6,1428.7 L1831.9,1433.5 L1842.4,1434.8 L1853.0,1432.9 L1864.2,1428.1 L1876.5,1423.4 L1888.8,1425.1 L1900.1,1426.7 L1911.4,1426.9 L1922.9,1426.9 L1934.4,1427.6 L1945.5,1427.8 L1956.5,1425.9 L1968.6,1423.0 L1980.8,1425.6 L1992.1,1427.7 L2003.3,1428.7 L2014.6,1429.0 L2026.1,1429.1 L2037.5,1429.3 L2049.0,1429.3 L2055.0,1429.3 L2055.0,1435.9 L2049.0,1435.9 L2037.5,1435.9 L2026.0,1435.7 L2014.5,1435.6 L2002.9,1435.3 L1991.2,1434.3 L1979.5,1432.1 L1968.7,1429.6 L1957.9,1432.4 L1946.0,1434.4 L1934.1,1434.2 L1922.7,1433.5 L1911.3,1433.5 L1899.6,1433.3 L1887.9,1431.7 L1877.3,1429.9 L1866.7,1434.2 L1854.9,1439.3 L1842.6,1441.4 L1830.1,1439.9 L1818.5,1434.9 L1807.6,1432.0 L1796.4,1431.7 L1784.8,1431.0 L1773.2,1429.4 L1761.7,1428.0 L1750.2,1426.4 L1738.7,1424.8 L1727.2,1423.0 L1715.7,1421.2 L1704.2,1419.2 L1692.7,1417.0 L1681.0,1414.4 L1669.4,1411.2 L1657.6,1407.2 L1645.8,1401.4 L1634.0,1393.4 L1622.3,1383.5 L1610.7,1372.3 L1599.2,1360.9 L1587.5,1349.1 L1575.7,1334.1 L1564.0,1314.1 L1552.3,1287.2 L1540.7,1254.0 L1529.2,1216.5 L1517.6,1179.5 L1506.1,1141.5 L1494.6,1102.0 L1483.0,1060.3 L1471.6,1017.1 L1460.1,973.8 L1448.6,933.9 L1437.2,895.7 L1425.7,859.2 L1414.3,825.1 L1402.9,794.3 L1391.5,767.0 L1380.0,742.6 L1368.6,720.6 L1357.2,700.0 L1345.8,680.4 L1334.4,661.7 L1322.9,644.1 L1311.6,627.7 L1300.2,612.7 L1288.7,598.7 L1277.3,584.9 L1265.7,570.4 L1254.2,554.9 L1242.7,538.7 L1231.1,521.5 L1219.6,503.7 L1208.2,485.6 L1196.7,467.7 L1185.2,450.4 L1173.8,433.1 L1162.3,416.1 L1151.0,399.8 L1139.7,386.4 L1128.5,375.6 L1117.2,365.7 L1106.1,357.6 L1095.1,352.0 L1084.3,347.3 L1073.9,346.7 L1063.1,348.2 L1052.3,351.2 L1041.5,357.1 L1030.5,365.8 L1019.2,377.0 L1007.8,389.1 L996.4,402.4 L985.0,415.8 L973.6,429.7 L962.2,444.6 L950.7,460.6 L939.3,477.1 L927.8,494.0 L916.4,511.1 L905.0,528.9 L893.5,547.7 L882.1,567.4 L870.6,587.2 L859.2,607.2 L847.7,627.3 L836.2,647.4 L824.7,667.4 L813.2,687.3 L801.8,706.7 L790.3,725.7 L778.8,744.3 L767.3,763.1 L755.9,782.2 L744.4,801.8 L732.9,821.7 L721.5,841.7 L710.0,861.9 L698.6,882.3 L687.1,902.9 L675.6,923.6 L664.1,943.8 L652.5,962.2 L641.0,979.1 L629.5,995.2 L618.0,1011.1 L606.5,1027.2 L595.0,1043.3 L583.5,1058.6 L572.0,1073.3 L560.5,1087.5 L548.9,1101.2 L537.3,1113.0 L525.8,1124.6 L514.2,1135.3 L502.5,1145.8 L490.9,1153.9 L479.7,1162.5 L468.5,1173.6 L457.1,1185.5 L445.2,1199.1 L432.9,1205.5 L421.4,1210.2 L410.2,1216.0 L398.5,1222.6 L386.6,1227.0 L374.6,1230.4 L362.7,1231.7 L351.0,1231.9 L339.5,1232.0 L328.0,1232.0 L322.0,1232.0Z" fill="#800000" stroke="#800000" stroke-width="0.4" stroke-linejoin="round"/>
</g>
<g shape-rendering="auto">
<rect x="324.9" y="77.3" width="3.2" height="1394.3" fill="#525252"/>
<rect x="327.9" y="80.6" width="2.5" height="1391" fill="#000"/>
<rect x="330.4" y="83.1" width="2.6" height="1369.8" fill="#c7bfcb"/>
<rect x="300" y="77.3" width="1751.6" height="3.5" fill="#4b4a50"/>
<rect x="300" y="80.6" width="1751.6" height="2.5" fill="#000"/>
<rect x="303" y="83.1" width="1743.4" height="2.8" fill="#c7bfcb"/>
<rect x="300" y="1452.8" width="1751.6" height="5.4" fill="#000"/>
<rect x="2046.4" y="77.3" width="5.2" height="1407.2" fill="#000"/>
</g>
<g stroke="#000" stroke-width="4.8" fill="none" stroke-linecap="butt">
<line x1="314" y1="1357.2" x2="325.5" y2="1357.2" stroke-width="5.4"/>
<line x1="300" y1="1258.9" x2="325.5" y2="1258.9"/>
<line x1="314" y1="1160.9" x2="325.5" y2="1160.9" stroke-width="5.4"/>
<line x1="300" y1="1063.0" x2="325.5" y2="1063.0"/>
<line x1="314" y1="965.0" x2="325.5" y2="965.0" stroke-width="5.4"/>
<line x1="300" y1="866.9" x2="325.5" y2="866.9"/>
<line x1="314" y1="769.0" x2="325.5" y2="769.0" stroke-width="5.4"/>
<line x1="300" y1="671.0" x2="325.5" y2="671.0"/>
<line x1="314" y1="572.7" x2="325.5" y2="572.7" stroke-width="5.4"/>
<line x1="300" y1="474.2" x2="325.5" y2="474.2"/>
<line x1="314" y1="377.2" x2="325.5" y2="377.2" stroke-width="5.4"/>
<line x1="300" y1="277.7" x2="325.5" y2="277.7"/>
<line x1="314" y1="180.9" x2="325.5" y2="180.9" stroke-width="5.4"/>
<line x1="442.7" y1="1455.5" x2="442.7" y2="1485"/>
<line x1="557.5" y1="1455.5" x2="557.5" y2="1471"/>
<line x1="672.2" y1="1455.5" x2="672.2" y2="1485"/>
<line x1="786.9" y1="1455.5" x2="786.9" y2="1471"/>
<line x1="901.7" y1="1455.5" x2="901.7" y2="1485"/>
<line x1="1016.4" y1="1455.5" x2="1016.4" y2="1471"/>
<line x1="1131.1" y1="1455.5" x2="1131.1" y2="1485"/>
<line x1="1245.9" y1="1455.5" x2="1245.9" y2="1471"/>
<line x1="1360.6" y1="1455.5" x2="1360.6" y2="1485"/>
<line x1="1475.3" y1="1455.5" x2="1475.3" y2="1471"/>
<line x1="1590.1" y1="1455.5" x2="1590.1" y2="1485"/>
<line x1="1704.8" y1="1455.5" x2="1704.8" y2="1471"/>
<line x1="1819.5" y1="1455.5" x2="1819.5" y2="1485"/>
<line x1="1934.3" y1="1455.5" x2="1934.3" y2="1471"/>
</g>
<g class="tick" text-anchor="end">
<text transform="translate(285.8,1470.8) scale(1.02,1.050)">0.0</text>
<text transform="translate(285.8,1274.2) scale(1.02,1.050)">0.1</text>
<text transform="translate(285.8,1078.3) scale(1.02,1.050)">0.2</text>
<text transform="translate(285.8,882.2) scale(1.02,1.050)">0.3</text>
<text transform="translate(285.8,686.3) scale(1.02,1.050)">0.4</text>
<text transform="translate(285.8,489.5) scale(1.02,1.050)">0.5</text>
<text transform="translate(285.8,293.0) scale(1.02,1.050)">0.6</text>
<text transform="translate(285.8,95.4) scale(1.02,1.050)">0.7</text>
</g>
<g class="tick" text-anchor="middle">
<text transform="translate(441.9,1541.6) scale(1.005,1.105)">360</text>
<text transform="translate(671.4,1541.6) scale(1.005,1.105)">380</text>
<text transform="translate(900.9,1541.6) scale(1.005,1.105)">400</text>
<text transform="translate(1130.3,1541.6) scale(1.005,1.105)">420</text>
<text transform="translate(1359.8,1541.6) scale(1.005,1.105)">440</text>
<text transform="translate(1589.3,1541.6) scale(1.005,1.105)">460</text>
<text transform="translate(1818.7,1541.6) scale(1.005,1.105)">480</text>
<text transform="translate(2048.2,1541.6) scale(1.005,1.105)">500</text>
</g>
<text class="title" text-anchor="middle" transform="translate(1190.2,1642) scale(1.024,1)">Wavelength (nm)</text>
<text class="title" text-anchor="middle" transform="translate(107,759.6) rotate(-90) scale(1.006,1)">Absorbance</text>
<g class="leg">
<line x1="1613" y1="132.7" x2="1746.5" y2="132.7" stroke="#000000" stroke-width="6.5"/>
<text transform="translate(1774.5,153.4) scale(1,1.075)">0 s</text>
<line x1="1613" y1="202.5" x2="1746.5" y2="202.5" stroke="#ff0000" stroke-width="5.5"/>
<text transform="translate(1758.5,223.2) scale(1,1.075)">30 s</text>
<line x1="1613" y1="273.0" x2="1746.5" y2="273.0" stroke="#0000ff" stroke-width="6.5"/>
<text transform="translate(1758.5,293.7) scale(1,1.075)">60 s</text>
<line x1="1613" y1="343.0" x2="1746.5" y2="343.0" stroke="#ff00ff" stroke-width="8.5"/>
<text transform="translate(1758.5,363.7) scale(1,1.075)">90 s</text>
<line x1="1613" y1="413.8" x2="1746.5" y2="413.8" stroke="#008000" stroke-width="8.5"/>
<text dx="2.6 -2.6" transform="translate(1758.5,434.5) scale(1,1.075)">120 s</text>
<line x1="1613" y1="483.8" x2="1746.5" y2="483.8" stroke="#00008b" stroke-width="6.3"/>
<text dx="2.6 -2.6" transform="translate(1758.5,504.5) scale(1,1.075)">150 s</text>
<line x1="1613" y1="553.6" x2="1746.5" y2="553.6" stroke="#8000ff" stroke-width="5.8"/>
<text dx="2.6 -2.6" transform="translate(1758.5,574.3) scale(1,1.075)">180 s</text>
<line x1="1613" y1="624.3" x2="1746.5" y2="624.3" stroke="#800080" stroke-width="6.6"/>
<text dx="0 2.6 -2.6" transform="translate(1758.5,645.0) scale(1,1.075)">210 s</text>
<line x1="1613" y1="694.2" x2="1746.5" y2="694.2" stroke="#800000" stroke-width="8.2"/>
<text transform="translate(1758.5,714.9) scale(1,1.075)">420 s</text>
</g>
<g transform="translate(1761.1,434.5) scale(1.000,1.075)" fill="#fff">
<rect x="3.48" y="-5.13" width="11.02" height="6.13"/>
<rect x="19.81" y="-5.13" width="10.53" height="6.13"/>
</g>
<g transform="translate(1761.1,504.5) scale(1.000,1.075)" fill="#fff">
<rect x="3.48" y="-5.13" width="11.02" height="6.13"/>
<rect x="19.81" y="-5.13" width="10.53" height="6.13"/>
</g>
<g transform="translate(1761.1,574.3) scale(1.000,1.075)" fill="#fff">
<rect x="3.48" y="-5.13" width="11.02" height="6.13"/>
<rect x="19.81" y="-5.13" width="10.53" height="6.13"/>
</g>
<g transform="translate(1761.1,645.0) scale(1.000,1.075)" fill="#fff">
<rect x="35.74" y="-5.13" width="11.02" height="6.13"/>
<rect x="52.07" y="-5.13" width="10.53" height="6.13"/>
</g>
<g transform="translate(285.8,1274.2) scale(1.020,1.050)" fill="#fff">
<rect x="-26.05" y="-4.72" width="9.97" height="5.72"/>
<rect x="-11.27" y="-4.72" width="9.53" height="5.72"/>
</g>
</svg></body></html>
